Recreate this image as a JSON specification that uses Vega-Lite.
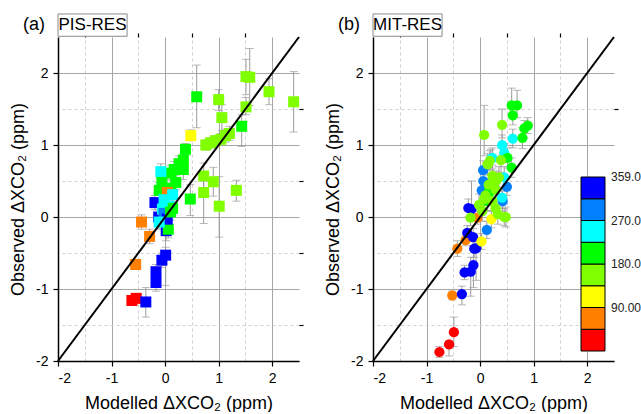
{
  "$schema": "https://vega.github.io/schema/vega-lite/v6.json",
  "padding": {"left": 9, "top": 13, "right": 0, "bottom": 0},
  "bounds": "flush",
  "spacing": 74,
  "config": {
    "font": "Liberation Sans",
    "view": {"stroke": null},
    "axis": {"labelFont": "Liberation Sans", "titleFont": "Liberation Sans"}
  },
  "datasets": {
    "pa": [
      {"mx": -0.62, "ob": -1.16, "lo": -1.22, "hi": -1.11, "dir": 20},
      {"mx": -0.54, "ob": -1.13, "lo": -1.19, "hi": -1.08, "dir": 20},
      {"mx": -0.36, "ob": -1.18, "lo": -1.39, "hi": -0.98, "dir": 340},
      {"mx": -0.17, "ob": -0.91, "lo": -1.03, "hi": -0.8, "dir": 340},
      {"mx": -0.17, "ob": -0.76, "lo": -0.86, "hi": -0.66, "dir": 340},
      {"mx": -0.06, "ob": -0.6, "lo": -0.7, "hi": -0.5, "dir": 340},
      {"mx": 0.01, "ob": -0.53, "lo": -0.95, "hi": -0.42, "dir": 340},
      {"mx": -0.55, "ob": -0.66, "lo": -0.72, "hi": -0.6, "dir": 70},
      {"mx": -0.29, "ob": -0.27, "lo": -0.37, "hi": -0.17, "dir": 70},
      {"mx": -0.44, "ob": -0.07, "lo": -0.17, "hi": 0.03, "dir": 70},
      {"mx": -0.19, "ob": 0.2, "lo": 0.1, "hi": 0.3, "dir": 340},
      {"mx": -0.12, "ob": 0.0, "lo": -0.1, "hi": 0.1, "dir": 340},
      {"mx": 0.02, "ob": -0.19, "lo": -0.33, "hi": -0.05, "dir": 340},
      {"mx": 0.06, "ob": -0.17, "lo": -0.29, "hi": -0.05, "dir": 205},
      {"mx": 0.48, "ob": 1.13, "lo": 1.06, "hi": 1.21, "dir": 110},
      {"mx": 0.59, "ob": 1.67, "lo": 1.24, "hi": 2.11, "dir": 205},
      {"mx": 0.47, "ob": 0.25, "lo": 0.02, "hi": 0.45, "dir": 205},
      {"mx": 0.38, "ob": 0.94, "lo": 0.86, "hi": 1.02, "dir": 205},
      {"mx": 0.34, "ob": 0.79, "lo": 0.7, "hi": 0.88, "dir": 205},
      {"mx": 0.26, "ob": 0.74, "lo": 0.63, "hi": 0.85, "dir": 205},
      {"mx": 0.34, "ob": 0.66, "lo": 0.52, "hi": 0.8, "dir": 205},
      {"mx": 0.17, "ob": 0.66, "lo": 0.55, "hi": 0.77, "dir": 205},
      {"mx": 0.11, "ob": 0.61, "lo": 0.5, "hi": 0.72, "dir": 205},
      {"mx": -0.08, "ob": 0.63, "lo": 0.52, "hi": 0.74, "dir": 250},
      {"mx": 0.2, "ob": 0.48, "lo": 0.38, "hi": 0.58, "dir": 205},
      {"mx": -0.06, "ob": 0.48, "lo": 0.36, "hi": 0.6, "dir": 205},
      {"mx": -0.11, "ob": 0.37, "lo": 0.26, "hi": 0.48, "dir": 205},
      {"mx": 0.11, "ob": 0.4, "lo": 0.28, "hi": 0.52, "dir": 205},
      {"mx": 0.04, "ob": 0.34, "lo": 0.22, "hi": 0.46, "dir": 70},
      {"mx": 0.14, "ob": 0.31, "lo": 0.2, "hi": 0.42, "dir": 250},
      {"mx": -0.02, "ob": 0.24, "lo": 0.12, "hi": 0.36, "dir": 250},
      {"mx": 0.07, "ob": 0.15, "lo": 0.03, "hi": 0.27, "dir": 250},
      {"mx": 0.14, "ob": 0.12, "lo": 0.02, "hi": 0.22, "dir": 205},
      {"mx": -0.05, "ob": 0.11, "lo": 0.0, "hi": 0.22, "dir": 250},
      {"mx": -0.02, "ob": 0.05, "lo": -0.07, "hi": 0.17, "dir": 290},
      {"mx": 0.04, "ob": -0.03, "lo": -0.15, "hi": 0.09, "dir": 340},
      {"mx": -0.11, "ob": -0.07, "lo": -0.17, "hi": 0.03, "dir": 250},
      {"mx": 0.1, "ob": 0.07, "lo": -0.04, "hi": 0.18, "dir": 205},
      {"mx": 0.76, "ob": 1.0, "lo": 0.93, "hi": 1.07, "dir": 160},
      {"mx": 0.85, "ob": 1.03, "lo": 0.96, "hi": 1.1, "dir": 160},
      {"mx": 0.94, "ob": 1.06, "lo": 0.99, "hi": 1.13, "dir": 160},
      {"mx": 1.04, "ob": 1.08, "lo": 1.0, "hi": 1.16, "dir": 160},
      {"mx": 1.13, "ob": 1.13, "lo": 1.04, "hi": 1.22, "dir": 160},
      {"mx": 1.2, "ob": 1.16, "lo": 1.06, "hi": 1.26, "dir": 160},
      {"mx": 1.0, "ob": 1.63, "lo": 1.48, "hi": 1.77, "dir": 160},
      {"mx": 1.06, "ob": 1.38, "lo": 1.2, "hi": 1.56, "dir": 160},
      {"mx": 1.51, "ob": 1.95, "lo": 1.7, "hi": 2.19, "dir": 160},
      {"mx": 1.58, "ob": 1.94, "lo": 1.55, "hi": 2.34, "dir": 160},
      {"mx": 1.51, "ob": 1.53, "lo": 1.42, "hi": 1.66, "dir": 160},
      {"mx": 1.43, "ob": 1.26, "lo": 0.98, "hi": 1.42, "dir": 205},
      {"mx": 1.94, "ob": 1.74, "lo": 1.56, "hi": 1.92, "dir": 160},
      {"mx": 2.4, "ob": 1.6, "lo": 1.18, "hi": 2.02, "dir": 160},
      {"mx": 0.72, "ob": 0.57, "lo": 0.4, "hi": 0.75, "dir": 160},
      {"mx": 0.72, "ob": 0.34, "lo": -0.09, "hi": 0.5, "dir": 160},
      {"mx": 0.9, "ob": 0.49, "lo": 0.29, "hi": 0.69, "dir": 160},
      {"mx": 1.01, "ob": 0.15, "lo": -0.28, "hi": 0.56, "dir": 160},
      {"mx": 1.33, "ob": 0.37, "lo": 0.22, "hi": 0.51, "dir": 160}
    ],
    "pb": [
      {"mx": -0.76, "ob": -1.875, "lo": -1.95, "hi": -1.8, "dir": 20},
      {"mx": -0.58, "ob": -1.77, "lo": -1.93, "hi": -1.72, "dir": 20},
      {"mx": -0.49, "ob": -1.6, "lo": -1.8, "hi": -1.39, "dir": 20},
      {"mx": -0.52, "ob": -1.09, "lo": -1.15, "hi": -1.03, "dir": 70},
      {"mx": -0.425, "ob": -0.44, "lo": -0.55, "hi": -0.33, "dir": 70},
      {"mx": -0.27, "ob": -0.32, "lo": -0.4, "hi": -0.24, "dir": 70},
      {"mx": -0.05, "ob": -0.01, "lo": -0.1, "hi": 0.08, "dir": 70},
      {"mx": -0.34, "ob": -1.07, "lo": -1.22, "hi": -0.96, "dir": 340},
      {"mx": -0.29, "ob": -0.77, "lo": -0.87, "hi": -0.67, "dir": 340},
      {"mx": -0.175, "ob": -0.76, "lo": -1.1, "hi": -0.56, "dir": 340},
      {"mx": -0.125, "ob": -0.67, "lo": -0.98, "hi": -0.45, "dir": 340},
      {"mx": -0.24, "ob": -0.22, "lo": -0.32, "hi": -0.12, "dir": 340},
      {"mx": -0.13, "ob": -0.28, "lo": -0.4, "hi": -0.16, "dir": 340},
      {"mx": -0.11, "ob": -0.44, "lo": -0.56, "hi": -0.32, "dir": 340},
      {"mx": -0.075, "ob": -0.435, "lo": -0.88, "hi": -0.3, "dir": 340},
      {"mx": -0.22, "ob": 0.125, "lo": 0.0, "hi": 0.25, "dir": 340},
      {"mx": -0.16, "ob": 0.11, "lo": -0.05, "hi": 0.5, "dir": 340},
      {"mx": 0.025, "ob": -0.34, "lo": -0.45, "hi": -0.23, "dir": 110},
      {"mx": 0.21, "ob": -0.03, "lo": -0.15, "hi": 0.09, "dir": 110},
      {"mx": 0.125, "ob": -0.18, "lo": -0.3, "hi": -0.06, "dir": 290},
      {"mx": 0.056, "ob": 0.65, "lo": 0.52, "hi": 0.78, "dir": 290},
      {"mx": 0.06, "ob": 0.5, "lo": 0.35, "hi": 0.65, "dir": 290},
      {"mx": 0.03, "ob": 0.37, "lo": 0.22, "hi": 0.52, "dir": 290},
      {"mx": 0.5, "ob": 0.42, "lo": 0.3, "hi": 0.54, "dir": 290},
      {"mx": 0.42, "ob": 0.22, "lo": 0.08, "hi": 0.36, "dir": 290},
      {"mx": 0.61, "ob": 1.09, "lo": 0.96, "hi": 1.22, "dir": 250},
      {"mx": 0.41, "ob": 1.0, "lo": 0.86, "hi": 1.14, "dir": 250},
      {"mx": 0.45, "ob": 0.89, "lo": 0.76, "hi": 1.02, "dir": 250},
      {"mx": 0.23, "ob": 0.82, "lo": 0.68, "hi": 0.96, "dir": 250},
      {"mx": 0.41, "ob": 0.27, "lo": 0.12, "hi": 0.42, "dir": 250},
      {"mx": 0.45, "ob": 0.55, "lo": 0.4, "hi": 0.7, "dir": 250},
      {"mx": 0.2, "ob": 0.8, "lo": 0.66, "hi": 0.94, "dir": 250},
      {"mx": 0.59, "ob": 1.55, "lo": 1.4, "hi": 1.79, "dir": 205},
      {"mx": 0.69, "ob": 1.55, "lo": 1.38, "hi": 1.76, "dir": 205},
      {"mx": 0.61, "ob": 1.41, "lo": 1.28, "hi": 1.55, "dir": 205},
      {"mx": 0.89, "ob": 1.27, "lo": 1.16, "hi": 1.38, "dir": 205},
      {"mx": 0.825, "ob": 1.23, "lo": 1.1, "hi": 1.34, "dir": 205},
      {"mx": 0.79, "ob": 1.1, "lo": 0.95, "hi": 1.24, "dir": 205},
      {"mx": 0.59, "ob": 0.685, "lo": 0.55, "hi": 0.82, "dir": 205},
      {"mx": 0.51, "ob": 0.82, "lo": 0.68, "hi": 0.96, "dir": 205},
      {"mx": 0.2, "ob": 0.36, "lo": 0.22, "hi": 0.5, "dir": 205},
      {"mx": 0.14, "ob": 0.22, "lo": 0.08, "hi": 0.36, "dir": 205},
      {"mx": 0.17, "ob": 0.38, "lo": 0.24, "hi": 0.52, "dir": 205},
      {"mx": 0.075, "ob": 1.14, "lo": 0.85, "hi": 1.55, "dir": 160},
      {"mx": 0.41, "ob": 1.28, "lo": 1.1, "hi": 1.5, "dir": 160},
      {"mx": 0.39, "ob": 0.79, "lo": 0.62, "hi": 0.96, "dir": 160},
      {"mx": 0.14, "ob": 0.73, "lo": 0.58, "hi": 0.88, "dir": 160},
      {"mx": 0.18, "ob": 0.78, "lo": 0.64, "hi": 0.92, "dir": 160},
      {"mx": 0.23, "ob": 0.57, "lo": 0.42, "hi": 0.72, "dir": 160},
      {"mx": 0.35, "ob": 0.55, "lo": 0.4, "hi": 0.7, "dir": 160},
      {"mx": 0.16, "ob": 0.45, "lo": 0.3, "hi": 0.6, "dir": 160},
      {"mx": 0.29, "ob": 0.38, "lo": 0.24, "hi": 0.52, "dir": 160},
      {"mx": 0.075, "ob": 0.25, "lo": 0.1, "hi": 0.4, "dir": 160},
      {"mx": 0.23, "ob": 0.22, "lo": 0.08, "hi": 0.36, "dir": 160},
      {"mx": 0.04, "ob": 0.08, "lo": -0.06, "hi": 0.22, "dir": 160},
      {"mx": 0.29, "ob": 0.12, "lo": -0.02, "hi": 0.26, "dir": 160},
      {"mx": 0.48, "ob": 0.0, "lo": -0.14, "hi": 0.14, "dir": 160},
      {"mx": -0.18, "ob": -0.01, "lo": -0.12, "hi": 0.1, "dir": 160},
      {"mx": -0.02, "ob": 0.17, "lo": 0.02, "hi": 0.32, "dir": 160},
      {"mx": 0.33, "ob": 0.04, "lo": -0.1, "hi": 0.18, "dir": 160},
      {"mx": 0.45, "ob": 0.0, "lo": -0.12, "hi": 0.12, "dir": 160},
      {"mx": 0.3, "ob": 0.5, "lo": 0.36, "hi": 0.64, "dir": 160},
      {"mx": 0.1, "ob": 0.3, "lo": 0.16, "hi": 0.44, "dir": 160}
    ],
    "diag": [{"lx": -2, "ly": -2}, {"lx": 2.5, "ly": 2.5}],
    "one": [{"k": 1}]
  },
  "hconcat": [
    {
      "width": 241,
      "height": 324,
      "layer": [
        {
          "data": {"name": "pa"},
          "mark": {"type": "errorbar", "ticks": {"size": 8, "color": "#9b9b9b"}, "color": "#9b9b9b", "thickness": 1},
          "encoding": {
            "x": {"field": "mx", "type": "quantitative", "scale": {"domain": [-2, 2.5], "nice": false, "zero": false}, "axis": null},
            "y": {"field": "lo", "type": "quantitative", "scale": {"domain": [-2, 2.5], "nice": false, "zero": false}, "axis": null},
            "y2": {"field": "hi"}
          }
        },
        {
          "data": {"name": "pa"},
          "mark": {"type": "square", "size": 121, "opacity": 1},
          "encoding": {
            "x": {"field": "mx", "type": "quantitative", "scale": {"domain": [-2, 2.5], "nice": false, "zero": false},
              "axis": {"values": [-2, -1, 0, 1, 2], "title": "Modelled ΔXCO₂ (ppm)", "grid": true, "gridColor": "#a6a6a6", "domainColor": "black", "domainWidth": 1.5, "tickColor": "black", "tickSize": 5, "tickWidth": 1.2, "labelFontSize": 14, "labelColor": "black", "labelPadding": 5, "titleFontSize": 18, "titleFontWeight": "normal", "titleColor": "black", "titlePadding": 9, "labelExpr": "datum.value < 0 ? '-' + abs(datum.value) : '' + datum.value"}},
            "y": {"field": "ob", "type": "quantitative", "scale": {"domain": [-2, 2.5], "nice": false, "zero": false},
              "axis": {"values": [-2, -1, 0, 1, 2], "title": "Observed ΔXCO₂ (ppm)", "grid": true, "gridColor": "#a6a6a6", "domainColor": "black", "domainWidth": 1.5, "tickColor": "black", "tickSize": 5, "tickWidth": 1.2, "labelFontSize": 14, "labelColor": "black", "labelPadding": 5, "titleFontSize": 18, "titleFontWeight": "normal", "titleColor": "black", "titlePadding": 8, "labelExpr": "datum.value < 0 ? '-' + abs(datum.value) : '' + datum.value"}},
            "color": {"field": "dir", "type": "quantitative",
              "scale": {"type": "quantize", "domain": [0, 359], "nice": false, "range": ["#ff0000", "#ff8000", "#ffff00", "#80ff00", "#00ff00", "#00ffff", "#0080ff", "#0000ff"]},
              "legend": {"type": "gradient", "orient": "none", "legendX": 523, "legendY": 140, "direction": "vertical", "gradientLength": 174, "gradientThickness": 24, "gradientStrokeColor": "black", "gradientStrokeWidth": 1, "labelFontSize": 12, "labelColor": "#222", "labelOffset": 6, "labelOverlap": false, "fillColor": "white", "padding": 0,
                "title": "359.0", "titleOrient": "top", "titleAnchor": "end", "titleBaseline": "middle", "titleAlign": "right", "titleFontSize": 12, "titleFontWeight": "normal", "titleColor": "#222", "titlePadding": -12,
                "labelExpr": "abs(datum.value - 269.25) < 1 ? '270.0' : abs(datum.value - 179.5) < 1 ? '180.0' : abs(datum.value - 89.75) < 1 ? '90.00' : ''"}}
          }
        },
        {
          "data": {"name": "diag"},
          "mark": {"type": "line", "color": "black", "strokeWidth": 2},
          "encoding": {
            "x": {"field": "lx", "type": "quantitative", "scale": {"domain": [-2, 2.5], "nice": false, "zero": false},
              "axis": {"values": [-1.5, -0.5, 0.5, 1.5], "title": null, "labels": false, "domain": false, "grid": true, "gridDash": [3, 3], "gridColor": "#d0d0d0", "tickColor": "black", "tickSize": 4, "tickWidth": 1.2}},
            "y": {"field": "ly", "type": "quantitative", "scale": {"domain": [-2, 2.5], "nice": false, "zero": false},
              "axis": {"values": [-1.5, -0.5, 0.5, 1.5], "title": null, "labels": false, "domain": false, "grid": true, "gridDash": [3, 3], "gridColor": "#d0d0d0", "tickColor": "black", "tickSize": 4, "tickWidth": 1.2}}
          }
        },
        {
          "data": {"name": "one"},
          "mark": {"type": "rect", "fill": "white", "stroke": "#8a8a8a", "strokeWidth": 1, "clip": false},
          "encoding": {
            "x": {"datum": -2, "type": "quantitative", "scale": {"domain": [-2, 2.5], "nice": false, "zero": false}, "axis": null},
            "x2": {"datum": -0.71},
            "y": {"datum": 2.51, "type": "quantitative", "scale": {"domain": [-2, 2.5], "nice": false, "zero": false}, "axis": null},
            "y2": {"datum": 2.82}
          }
        },
        {
          "data": {"name": "one"},
          "mark": {"type": "text", "text": "PIS-RES", "fontSize": 17, "color": "black", "clip": false},
          "encoding": {
            "x": {"datum": -1.355, "type": "quantitative", "scale": {"domain": [-2, 2.5], "nice": false, "zero": false}, "axis": null},
            "y": {"datum": 2.665, "type": "quantitative", "scale": {"domain": [-2, 2.5], "nice": false, "zero": false}, "axis": null}
          }
        },
        {
          "data": {"name": "one"},
          "mark": {"type": "text", "text": "(a)", "fontSize": 18, "color": "black", "clip": false},
          "encoding": {
            "x": {"datum": -2.45, "type": "quantitative", "scale": {"domain": [-2, 2.5], "nice": false, "zero": false}, "axis": null},
            "y": {"datum": 2.665, "type": "quantitative", "scale": {"domain": [-2, 2.5], "nice": false, "zero": false}, "axis": null}
          }
        }
      ],
      "resolve": {"axis": {"x": "independent", "y": "independent"}}
    },
    {
      "width": 241,
      "height": 324,
      "layer": [
        {
          "data": {"name": "pb"},
          "mark": {"type": "errorbar", "ticks": {"size": 8, "color": "#9b9b9b"}, "color": "#9b9b9b", "thickness": 1},
          "encoding": {
            "x": {"field": "mx", "type": "quantitative", "scale": {"domain": [-2, 2.5], "nice": false, "zero": false}, "axis": null},
            "y": {"field": "lo", "type": "quantitative", "scale": {"domain": [-2, 2.5], "nice": false, "zero": false}, "axis": null},
            "y2": {"field": "hi"}
          }
        },
        {
          "data": {"name": "pb"},
          "mark": {"type": "circle", "size": 105, "opacity": 1},
          "encoding": {
            "x": {"field": "mx", "type": "quantitative", "scale": {"domain": [-2, 2.5], "nice": false, "zero": false},
              "axis": {"values": [-2, -1, 0, 1, 2], "title": "Modelled ΔXCO₂ (ppm)", "grid": true, "gridColor": "#a6a6a6", "domainColor": "black", "domainWidth": 1.5, "tickColor": "black", "tickSize": 5, "tickWidth": 1.2, "labelFontSize": 14, "labelColor": "black", "labelPadding": 5, "titleFontSize": 18, "titleFontWeight": "normal", "titleColor": "black", "titlePadding": 9, "labelExpr": "datum.value < 0 ? '-' + abs(datum.value) : '' + datum.value"}},
            "y": {"field": "ob", "type": "quantitative", "scale": {"domain": [-2, 2.5], "nice": false, "zero": false},
              "axis": {"values": [-2, -1, 0, 1, 2], "title": "Observed ΔXCO₂ (ppm)", "grid": true, "gridColor": "#a6a6a6", "domainColor": "black", "domainWidth": 1.5, "tickColor": "black", "tickSize": 5, "tickWidth": 1.2, "labelFontSize": 14, "labelColor": "black", "labelPadding": 5, "titleFontSize": 18, "titleFontWeight": "normal", "titleColor": "black", "titlePadding": 8, "labelExpr": "datum.value < 0 ? '-' + abs(datum.value) : '' + datum.value"}},
            "color": {"field": "dir", "type": "quantitative",
              "scale": {"type": "quantize", "domain": [0, 359], "nice": false, "range": ["#ff0000", "#ff8000", "#ffff00", "#80ff00", "#00ff00", "#00ffff", "#0080ff", "#0000ff"]}}
          }
        },
        {
          "data": {"name": "diag"},
          "mark": {"type": "line", "color": "black", "strokeWidth": 2},
          "encoding": {
            "x": {"field": "lx", "type": "quantitative", "scale": {"domain": [-2, 2.5], "nice": false, "zero": false},
              "axis": {"values": [-1.5, -0.5, 0.5, 1.5], "title": null, "labels": false, "domain": false, "grid": true, "gridDash": [3, 3], "gridColor": "#d0d0d0", "tickColor": "black", "tickSize": 4, "tickWidth": 1.2}},
            "y": {"field": "ly", "type": "quantitative", "scale": {"domain": [-2, 2.5], "nice": false, "zero": false},
              "axis": {"values": [-1.5, -0.5, 0.5, 1.5], "title": null, "labels": false, "domain": false, "grid": true, "gridDash": [3, 3], "gridColor": "#d0d0d0", "tickColor": "black", "tickSize": 4, "tickWidth": 1.2}}
          }
        },
        {
          "data": {"name": "one"},
          "mark": {"type": "rect", "fill": "white", "stroke": "#8a8a8a", "strokeWidth": 1, "clip": false},
          "encoding": {
            "x": {"datum": -2, "type": "quantitative", "scale": {"domain": [-2, 2.5], "nice": false, "zero": false}, "axis": null},
            "x2": {"datum": -0.71},
            "y": {"datum": 2.51, "type": "quantitative", "scale": {"domain": [-2, 2.5], "nice": false, "zero": false}, "axis": null},
            "y2": {"datum": 2.82}
          }
        },
        {
          "data": {"name": "one"},
          "mark": {"type": "text", "text": "MIT-RES", "fontSize": 17, "color": "black", "clip": false},
          "encoding": {
            "x": {"datum": -1.355, "type": "quantitative", "scale": {"domain": [-2, 2.5], "nice": false, "zero": false}, "axis": null},
            "y": {"datum": 2.665, "type": "quantitative", "scale": {"domain": [-2, 2.5], "nice": false, "zero": false}, "axis": null}
          }
        },
        {
          "data": {"name": "one"},
          "mark": {"type": "text", "text": "(b)", "fontSize": 18, "color": "black", "clip": false},
          "encoding": {
            "x": {"datum": -2.45, "type": "quantitative", "scale": {"domain": [-2, 2.5], "nice": false, "zero": false}, "axis": null},
            "y": {"datum": 2.665, "type": "quantitative", "scale": {"domain": [-2, 2.5], "nice": false, "zero": false}, "axis": null}
          }
        }
      ],
      "resolve": {"axis": {"x": "independent", "y": "independent"}}
    }
  ],
  "resolve": {"scale": {"color": "shared"}}
}
